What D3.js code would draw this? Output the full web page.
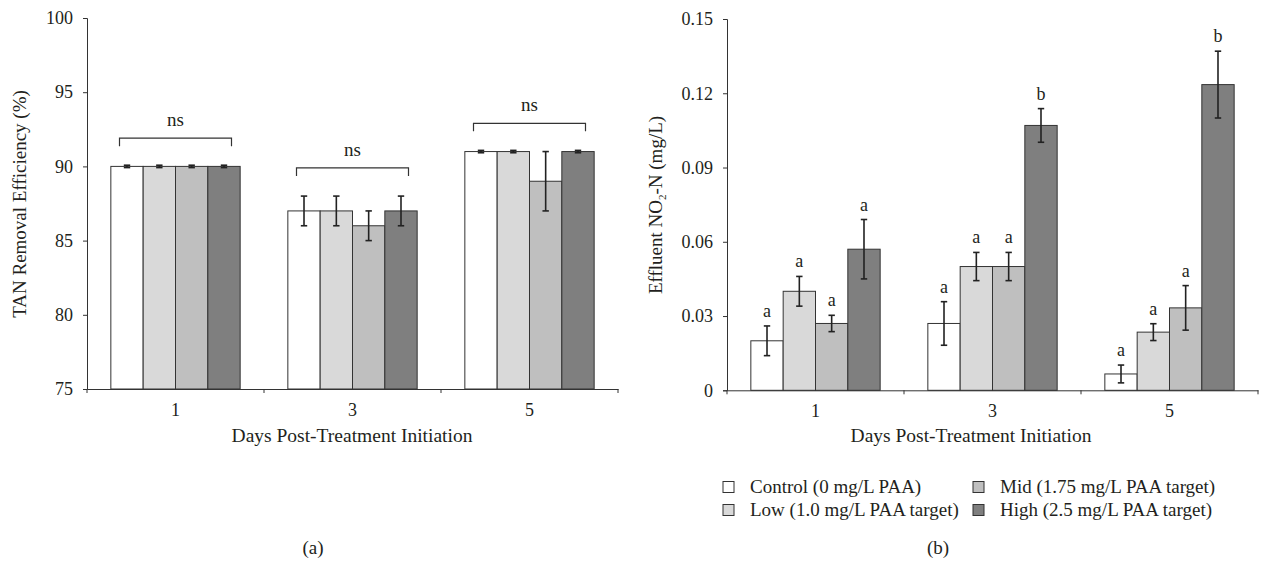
<!DOCTYPE html>
<html>
<head>
<meta charset="utf-8">
<script src="https://cdn.jsdelivr.net/npm/d3@7"></script>
<style>
  html, body { margin: 0; padding: 0; background: #fff; }
  svg text { font-family: "Liberation Serif", "Times New Roman", serif; fill: #231f20; }
</style>
</head>
<body>
<svg id="chart" width="1264" height="563"></svg>
<script>
// ---------- data ----------
const days = ["1", "3", "5"];
const series = ["Control (0 mg/L PAA)", "Low (1.0 mg/L PAA target)", "Mid (1.75 mg/L PAA target)", "High (2.5 mg/L PAA target)"];
const seriesColors = ["#ffffff", "#d9d9d9", "#bfbfbf", "#7f7f7f"];

// Panel (a): TAN removal efficiency (%)
const tanMean = [[90, 90, 90, 90], [87, 87, 86, 87], [91, 91, 89, 91]];
const tanErr = [[0.08, 0.08, 0.08, 0.08], [1, 1, 1, 1], [0.08, 0.08, 2, 0.08]];
const tanSig = ["ns", "ns", "ns"];
const tanBracket = [91.9, 89.9, 92.9];
const tanTicks = [75, 80, 85, 90, 95, 100];

// Panel (b): Effluent NO2-N (mg/L)
const no2Mean = [[0.020, 0.040, 0.027, 0.057], [0.027, 0.050, 0.050, 0.107], [0.0066, 0.0235, 0.0333, 0.1235]];
const no2Err = [[0.006, 0.006, 0.0033, 0.012], [0.0088, 0.0057, 0.0057, 0.0068], [0.0036, 0.0034, 0.009, 0.0135]];
const no2Letters = [["a", "a", "a", "a"], ["a", "a", "a", "b"], ["a", "a", "a", "b"]];
const no2Ticks = [0, 0.03, 0.06, 0.09, 0.12, 0.15];
const no2TickLabels = ["0", "0.03", "0.06", "0.09", "0.12", "0.15"];

// ---------- drawing ----------
const svg = d3.select("#chart");
const ink = "#231f20";
const FONT = '"Liberation Serif", "Times New Roman", serif';

function panel(opts) {
  const g = svg.append("g");
  const x0 = d3.scaleBand().domain(days).range([opts.left, opts.right]).padding(0);
  const bw = x0.bandwidth();
  const x1 = d3.scaleBand().domain(d3.range(series.length)).range([bw * 0.1347, bw * 0.8653]).padding(0);
  const y = d3.scaleLinear().domain(opts.domain).range([opts.bottom, opts.top]);

  // bars
  days.forEach((d, i) => {
    const gg = g.append("g").attr("transform", `translate(${x0(d)},0)`);
    gg.selectAll("rect").data(opts.mean[i]).join("rect")
      .attr("x", (v, j) => x1(j))
      .attr("width", x1.bandwidth())
      .attr("y", v => y(v))
      .attr("height", v => y(opts.domain[0]) - y(v))
      .attr("fill", (v, j) => seriesColors[j])
      .attr("stroke", "#333")
      .attr("stroke-width", 1);
    // error bars
    opts.mean[i].forEach((v, j) => {
      const cx = x1(j) + x1.bandwidth() / 2;
      const e = opts.err[i][j];
      const yt = y(v + e), yb = y(v - e);
      const eb = gg.append("g").attr("stroke", "#222").attr("stroke-width", 1.6);
      eb.append("line").attr("x1", cx).attr("x2", cx).attr("y1", yt).attr("y2", yb);
      eb.append("line").attr("x1", cx - 3.2).attr("x2", cx + 3.2).attr("y1", yt).attr("y2", yt);
      eb.append("line").attr("x1", cx - 3.2).attr("x2", cx + 3.2).attr("y1", yb).attr("y2", yb);
      if (opts.letters) {
        gg.append("text").attr("x", cx).attr("y", yt - 9)
          .attr("text-anchor", "middle").attr("font-size", 18)
          .text(opts.letters[i][j]);
      }
    });
  });

  // y axis
  const yAxis = d3.axisLeft(y).tickValues(opts.ticks).tickSize(4).tickPadding(10)
    .tickFormat((t, k) => opts.tickLabels ? opts.tickLabels[k] : t);
  const ya = g.append("g").attr("transform", `translate(${opts.left},0)`).call(yAxis);
  ya.selectAll("text").attr("font-size", 18).style("font-family", FONT).attr("fill", ink);
  ya.selectAll("line, path").attr("stroke", "#333");

  // x axis
  const xAxis = d3.axisBottom(x0).tickSize(0).tickPadding(14);
  const xa = g.append("g").attr("transform", `translate(0,${opts.bottom})`).call(xAxis);
  xa.select(".domain").attr("stroke", "#333");
  xa.selectAll("text").attr("font-size", 18).style("font-family", FONT).attr("fill", ink);
  const bounds = days.map(d => x0(d)).concat([x0(days[days.length - 1]) + bw]);
  xa.selectAll(".bound").data(bounds).join("line").attr("class", "bound")
    .attr("x1", d => d).attr("x2", d => d).attr("y1", 0).attr("y2", 4).attr("stroke", "#333");

  // x title
  g.append("text").attr("x", opts.xTitleX).attr("y", 442).attr("text-anchor", "middle")
    .attr("font-size", 19.5).text("Days Post-Treatment Initiation");

  return { g, x0, x1, y, bw };
}

// Panel (a)
const pa = panel({
  left: 87, right: 618, top: 18, bottom: 389, domain: [75, 100],
  mean: tanMean, err: tanErr, ticks: tanTicks, xTitleX: 352
});
// ns brackets
days.forEach((d, i) => {
  const cx = pa.x0(d) + pa.bw / 2;
  const yb = pa.y(tanBracket[i]);
  pa.g.append("path")
    .attr("d", `M${cx - 56},${yb + 8}V${yb}H${cx + 56}V${yb + 8}`)
    .attr("fill", "none").attr("stroke", "#333").attr("stroke-width", 1.2);
  pa.g.append("text").attr("x", cx).attr("y", yb - 12).attr("text-anchor", "middle")
    .attr("font-size", 19).text(tanSig[i]);
});
// y title (a)
svg.append("text").attr("transform", "translate(26,204) rotate(-90)")
  .attr("text-anchor", "middle").attr("font-size", 19).text("TAN Removal Efficiency (%)");
svg.append("text").attr("x", 313).attr("y", 554).attr("text-anchor", "middle")
  .attr("font-size", 19).text("(a)");

// Panel (b)
const pb = panel({
  left: 727, right: 1258, top: 19, bottom: 390.3, domain: [0, 0.15],
  mean: no2Mean, err: no2Err, ticks: no2Ticks, tickLabels: no2TickLabels,
  letters: no2Letters, xTitleX: 971
});
const yt = svg.append("text").attr("transform", "translate(662,205) rotate(-90)")
  .attr("text-anchor", "middle").attr("font-size", 19);
yt.append("tspan").text("Effluent NO");
yt.append("tspan").attr("font-size", 11).attr("dy", 4).text("2");
yt.append("tspan").attr("dy", -4).text("-N (mg/L)");
svg.append("text").attr("x", 938).attr("y", 554).attr("text-anchor", "middle")
  .attr("font-size", 19).text("(b)");

// Legend
const legendPos = [[723, 487], [723, 510], [973, 487], [973, 510]];
const lg = svg.append("g");
series.forEach((s, j) => {
  const [lx, ly] = legendPos[j];
  lg.append("rect").attr("x", lx).attr("y", ly - 5.5).attr("width", 11).attr("height", 11)
    .attr("fill", seriesColors[j]).attr("stroke", "#333").attr("stroke-width", 1);
  lg.append("text").attr("x", lx + 27).attr("y", ly + 6).attr("font-size", 19).text(s);
});
</script>
</body>
</html>
